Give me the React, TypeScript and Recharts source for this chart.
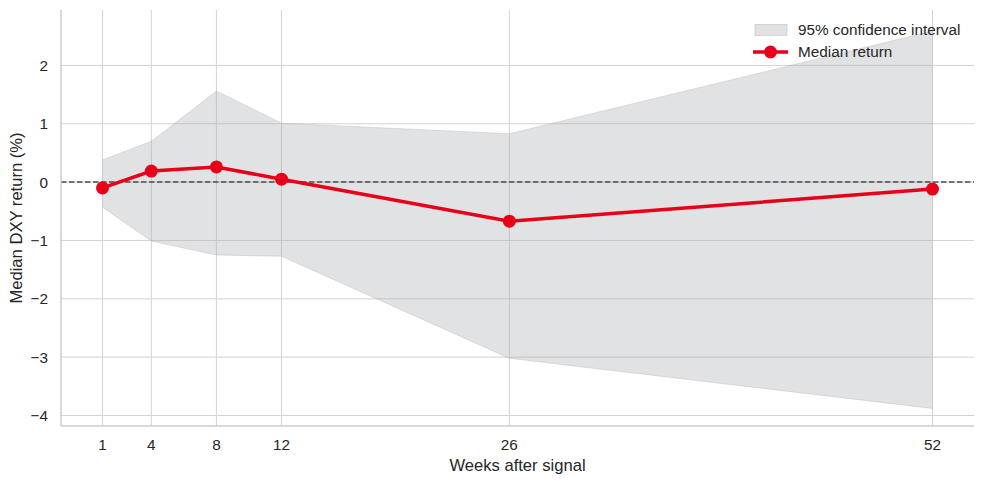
import React from "react";
import {
  ComposedChart,
  Area,
  Line,
  XAxis,
  YAxis,
  CartesianGrid,
  ReferenceLine,
} from "recharts";

const weeks = [1, 4, 8, 12, 26, 52];
const medianReturn = [-0.1, 0.19, 0.26, 0.05, -0.67, -0.12];
const upperBound = [0.38, 0.7, 1.56, 1.01, 0.83, 2.59];
const lowerBound = [-0.43, -1.01, -1.25, -1.27, -3.02, -3.88];
const yTicks = [-4, -3, -2, -1, 0, 1, 2];

const RED = "#e8001b";
const FONT = "'Liberation Sans', Arial, sans-serif";
const TEXT = "#262626";

const data = weeks.map((w, i) => ({
  week: w,
  median: medianReturn[i],
  band: [lowerBound[i], upperBound[i]],
}));

function LegendBox() {
  return (
    <div
      style={{
        position: "absolute",
        left: 753,
        top: 19,
        fontFamily: FONT,
        fontSize: 15.3,
        color: TEXT,
        lineHeight: "22px",
      }}
    >
      <div style={{ display: "flex", alignItems: "center" }}>
        <svg width={45} height={22}>
          <rect x={2} y={5.5} width={32} height={11} fill="#a8acb2" fillOpacity={0.35} stroke="#a8acb2" strokeOpacity={0.4} />
        </svg>
        <span>95% confidence interval</span>
      </div>
      <div style={{ display: "flex", alignItems: "center" }}>
        <svg width={45} height={22}>
          <line x1={0} y1={11} x2={35} y2={11} stroke={RED} strokeWidth={3.5} />
          <circle cx={17.5} cy={11} r={6.5} fill={RED} />
        </svg>
        <span>Median return</span>
      </div>
    </div>
  );
}

export default function App() {
  return (
    <div style={{ position: "absolute", left: 0, top: 0, width: 984, height: 484, background: "#fff" }}>
      <ComposedChart
        width={984}
        height={484}
        data={data}
        margin={{ top: 10, right: 10, bottom: 0, left: 0 }}
      >
        <CartesianGrid stroke="#d3d3d3" strokeWidth={1} syncWithTicks />
        <XAxis
          dataKey="week"
          type="number"
          domain={[-1.55, 54.55]}
          ticks={weeks}
          allowDataOverflow
          height={58}
          tickLine={false}
          tickSize={0}
          tickMargin={13}
          axisLine={{ stroke: "#cccccc", strokeWidth: 1.5 }}
          tick={{ fill: TEXT, fontSize: 15.3, fontFamily: FONT }}
          label={{
            content: ({ viewBox }: any) => (
              <text
                x={viewBox.x + viewBox.width / 2}
                y={471}
                textAnchor="middle"
                fill={TEXT}
                fontSize={16.6}
                fontFamily={FONT}
              >
                Weeks after signal
              </text>
            ),
          }}
        />
        <YAxis
          type="number"
          domain={[-4.18, 2.95]}
          ticks={yTicks}
          allowDataOverflow
          width={61}
          tickLine={false}
          tickSize={0}
          tickMargin={13}
          axisLine={{ stroke: "#cccccc", strokeWidth: 1.5 }}
          tick={{ fill: TEXT, fontSize: 15.3, fontFamily: FONT }}
          tickFormatter={(v: number) => (v < 0 ? `\u2212${Math.abs(v)}` : `${v}`)}
          label={{
            content: ({ viewBox }: any) => (
              <text
                x={16}
                y={viewBox.y + viewBox.height / 2}
                transform={`rotate(-90, 16, ${viewBox.y + viewBox.height / 2})`}
                textAnchor="middle"
                dominantBaseline="central"
                fill={TEXT}
                fontSize={16.6}
                fontFamily={FONT}
              >
                Median DXY return (%)
              </text>
            ),
          }}
        />
        <Area
          type="linear"
          dataKey="band"
          fill="#a8acb2"
          fillOpacity={0.35}
          stroke="#a8acb2"
          strokeOpacity={0.35}
          strokeWidth={1}
          isAnimationActive={false}
          legendType="none"
        />
        <ReferenceLine y={0} stroke="#4d4d4d" strokeWidth={1.5} strokeDasharray="5.5 2.5" />
        <Line
          type="linear"
          dataKey="median"
          stroke={RED}
          strokeWidth={3.5}
          dot={{ r: 6.5, fill: RED, stroke: RED, strokeWidth: 0 }}
          isAnimationActive={false}
        />
      </ComposedChart>
      <LegendBox />
    </div>
  );
}
